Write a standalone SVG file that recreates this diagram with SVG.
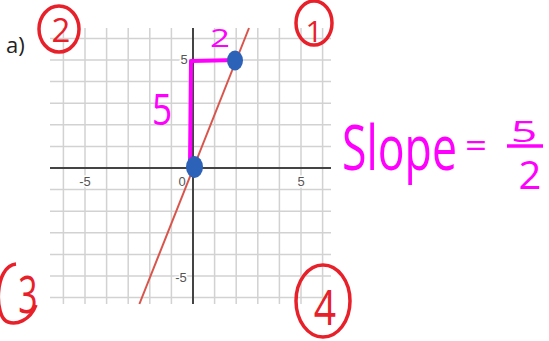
<svg xmlns="http://www.w3.org/2000/svg" width="549" height="341" viewBox="0 0 549 341">
<style>
.grid{stroke:#d2d2d2;stroke-width:1.5;fill:none}
.axis{stroke:#444;stroke-width:2;fill:none}
.tick{font-family:"Liberation Sans",Arial,sans-serif;font-size:13px;fill:#555;stroke:#fff;stroke-width:3;paint-order:stroke}
.mag{fill:#ff00ff;font-family:"Open Sans","Liberation Sans",sans-serif;font-weight:500}
.ring{fill:none;stroke:#e8202a;stroke-width:3.5}
.rnum{fill:#e8202a;font-family:"Open Sans","Liberation Sans",sans-serif;font-weight:500;text-anchor:middle}
.dot{fill:#2d62b9}
</style>
<rect width="549" height="341" fill="#fff"/>
<g id="grid">
<path class="grid" d="M63.4,28V304M85,28V304M106.6,28V304M128.2,28V304M149.8,28V304M171.4,28V304M214.6,28V304M236.2,28V304M257.8,28V304M279.4,28V304M301,28V304M322.6,28V304"/>
<path class="grid" d="M50,38.4H331M50,60H331M50,81.6H331M50,103.2H331M50,124.8H331M50,146.4H331M50,189.6H331M50,211.2H331M50,232.8H331M50,254.4H331M50,276H331M50,297.6H331"/>
<path class="axis" d="M193,28V304M50,168H331"/>
<text class="tick" x="184" y="64" text-anchor="middle">5</text>
<text class="tick" x="181" y="282" text-anchor="middle">-5</text>
<text class="tick" x="85" y="186" text-anchor="middle">-5</text>
<text class="tick" x="182" y="186" text-anchor="middle">0</text>
<text class="tick" x="301" y="186" text-anchor="middle">5</text>
</g>
<g id="connectors">
<path d="M139.4,304L249,28" stroke="#d9544a" stroke-width="2" fill="none"/>
<path d="M190,165L191,61L238,60" stroke="#ff00ff" stroke-width="4" fill="none" stroke-linejoin="round"/>
</g>
<g id="point-origin"><ellipse class="dot" cx="194.5" cy="167" rx="8.5" ry="11"/></g>
<g id="point-2-5"><ellipse class="dot" cx="235" cy="60.5" rx="8" ry="10"/></g>
<g id="label-rise"><text class="mag" transform="translate(162,125) scale(0.8,1)" font-size="44" text-anchor="middle">5</text></g>
<g id="label-run"><text class="mag" transform="translate(220,47) scale(1.4,1)" font-size="25" text-anchor="middle">2</text></g>
<g id="slope">
<text class="mag" transform="translate(342,170) scale(0.72,1)" font-size="62">Slope</text>
<text class="mag" transform="translate(476,157) scale(1.2,1)" font-size="32" text-anchor="middle">=</text>
<text class="mag" transform="translate(524,142) scale(1.6,1)" font-size="29" text-anchor="middle">5</text>
<path d="M507,146H543" stroke="#ff00ff" stroke-width="3.5"/>
<text class="mag" transform="translate(530,189) scale(1.05,1)" font-size="38" text-anchor="middle">2</text>
</g>
<g id="label-a"><text x="6" y="53" font-family="'Open Sans','Liberation Sans',sans-serif" font-size="22" fill="#222">a)</text></g>
<g id="q2"><ellipse class="ring" cx="59" cy="29" rx="20" ry="23"/><text class="rnum" x="61" y="42" font-size="33">2</text></g>
<g id="q1"><ellipse class="ring" cx="314" cy="23" rx="18" ry="22"/><text class="rnum" x="314" y="42" font-size="30">1</text></g>
<g id="q3"><path class="ring" d="M16,264C-6,266,-6,318,8,322C16,325,30,321,36,305"/><text class="rnum" transform="translate(28,313) scale(0.65,1)" font-size="52">3</text></g>
<g id="q4"><ellipse class="ring" cx="323" cy="301" rx="27" ry="36"/><text class="rnum" transform="translate(325,325) scale(0.78,1)" font-size="50">4</text></g>
</svg>
